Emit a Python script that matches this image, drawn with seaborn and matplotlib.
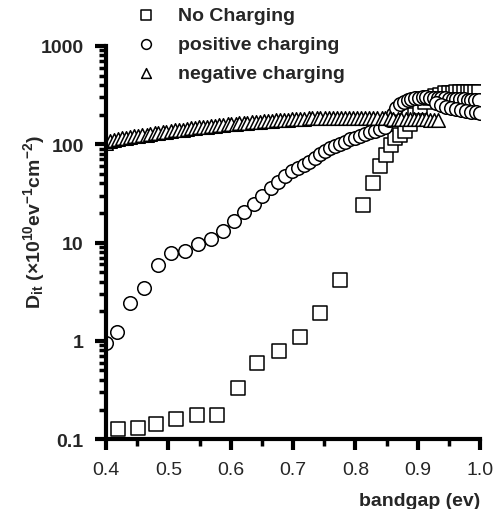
import matplotlib
matplotlib.use('Agg')
import matplotlib.pyplot as plt
import seaborn as sns
from matplotlib.ticker import LogLocator, NullFormatter, MultipleLocator

# data
sq_x = [0.420, 0.451, 0.481, 0.513, 0.546, 0.578, 0.611, 0.643, 0.678, 0.711,
        0.743, 0.776, 0.812, 0.828, 0.840, 0.849, 0.857, 0.864, 0.872, 0.880,
        0.888, 0.896, 0.904, 0.912, 0.920, 0.928, 0.936, 0.944, 0.950, 0.956,
        0.962, 0.968, 0.974, 0.980, 0.986, 0.992, 0.998]
sq_y = [0.126, 0.129, 0.142, 0.16, 0.177, 0.177, 0.33, 0.6, 0.78, 1.1,
        1.91, 4.2, 24, 40, 60, 78, 98, 115, 125, 135,
        160, 200, 240, 270, 295, 310, 320, 330, 335, 335,
        338, 340, 340, 342, 340, 340, 338]

circ_x = [0.400, 0.418, 0.439, 0.461, 0.483, 0.504, 0.526, 0.547, 0.568, 0.588,
          0.605, 0.621, 0.637, 0.651, 0.664, 0.676, 0.687, 0.698, 0.708, 0.717,
          0.726, 0.735, 0.743, 0.751, 0.759, 0.767, 0.775, 0.783, 0.791, 0.799,
          0.807, 0.815, 0.823, 0.831, 0.839, 0.847, 0.854, 0.860, 0.866, 0.872,
          0.878, 0.884, 0.890, 0.896, 0.902, 0.908, 0.914, 0.920, 0.926, 0.932,
          0.938, 0.944, 0.950, 0.956, 0.962, 0.968, 0.974, 0.980, 0.986, 0.992,
          0.998, 0.930, 0.938, 0.946, 0.954, 0.962, 0.970, 0.978, 0.986, 0.994,
          1.000]
circ_y = [0.95, 1.22, 2.4, 3.45, 5.9, 7.9, 8.2, 9.6, 10.8, 13.2,
          16.5, 20.5, 24.5, 30, 35.5, 41.5, 48, 54, 57, 61,
          66, 72, 79, 85, 91, 96, 101, 106, 112, 117,
          122, 127, 132, 137, 142, 150, 175, 205, 235, 255,
          270, 282, 290, 295, 298, 300, 300, 298, 296, 295,
          293, 292, 290, 289, 288, 287, 286, 285, 284, 283,
          282, 260, 250, 240, 232, 226, 222, 218, 215, 212,
          210]

tri_x = [0.400, 0.406, 0.413, 0.419, 0.426, 0.432, 0.439, 0.445, 0.452, 0.458,
         0.465, 0.471, 0.478, 0.484, 0.491, 0.497, 0.504, 0.510, 0.517, 0.523,
         0.530, 0.536, 0.543, 0.549, 0.556, 0.562, 0.569, 0.575, 0.582, 0.588,
         0.595, 0.601, 0.608, 0.614, 0.621, 0.627, 0.634, 0.640, 0.647, 0.653,
         0.660, 0.666, 0.673, 0.679, 0.686, 0.692, 0.699, 0.705, 0.712, 0.718,
         0.725, 0.731, 0.738, 0.744, 0.751, 0.757, 0.764, 0.770, 0.777, 0.783,
         0.790, 0.796, 0.803, 0.809, 0.816, 0.822, 0.829, 0.835, 0.842, 0.848,
         0.855, 0.861, 0.868, 0.874, 0.881, 0.887, 0.894, 0.900, 0.907, 0.913,
         0.920, 0.926, 0.933]
tri_y = [104, 108, 111, 113, 115, 117, 119, 120, 122, 124,
         125, 127, 129, 131, 133, 134, 136, 138, 140, 141,
         143, 145, 147, 148, 150, 151, 153, 154, 156, 157,
         159, 160, 162, 163, 165, 166, 167, 169, 170, 171,
         172, 174, 175, 176, 177, 178, 179, 180, 181, 182,
         183, 183, 184, 184, 185, 185, 186, 186, 186, 186,
         186, 186, 186, 185, 185, 185, 184, 184, 184, 183,
         183, 182, 182, 182, 181, 181, 180, 180, 179, 179,
         178, 178, 177]

labels = ['No Charging', 'positive charging', 'negative charging']
x_ticks = [0.4, 0.5, 0.6, 0.7, 0.8, 0.9, 1.0]
y_ticks = [0.1, 1, 10, 100, 1000]
y_ticklabels = ['0.1', '1', '10', '100', '1000']

sns.set_style('ticks')
plt.rcParams['font.family'] = ['Liberation Sans', 'DejaVu Sans']
plt.rcParams['mathtext.fontset'] = 'custom'
plt.rcParams['mathtext.rm'] = 'Liberation Sans'
plt.rcParams['mathtext.bf'] = 'Liberation Sans:bold'
plt.rcParams['mathtext.default'] = 'bf'

fig = plt.figure(figsize=(5, 5.1), dpi=100)
ax = fig.add_axes([0.212, 0.137, 0.748, 0.771])

ms = 95
sns.scatterplot(x=sq_x, y=sq_y, marker='s', s=ms, color='black', facecolor='white',
                edgecolor='black', linewidth=1.1, label=labels[0], ax=ax, zorder=3)
sns.scatterplot(x=circ_x, y=circ_y, marker='o', s=ms, color='black', facecolor='white',
                edgecolor='black', linewidth=1.1, label=labels[1], ax=ax, zorder=4)
sns.scatterplot(x=tri_x, y=tri_y, marker='^', s=ms, color='black', facecolor='white',
                edgecolor='black', linewidth=1.1, label=labels[2], ax=ax, zorder=5)

ax.set_yscale('log')
ax.set_xlim(0.4, 1.0)
ax.set_ylim(0.1, 1000)

ax.set_xticks(x_ticks)
ax.set_xticklabels([f'{t:.1f}' for t in x_ticks], fontsize=14)
ax.xaxis.set_minor_locator(MultipleLocator(0.05))
ax.set_yticks(y_ticks)
ax.set_yticklabels(y_ticklabels, fontsize=14, fontweight='bold')
ax.yaxis.set_minor_locator(LogLocator(base=10, subs=[2, 3, 4, 5, 6, 7, 8, 9]))
ax.yaxis.set_minor_formatter(NullFormatter())

ax.tick_params(axis='both', which='major', direction='out', length=8, width=3, color='black')
ax.tick_params(axis='both', which='minor', direction='out', length=5, width=2.5, color='black')
ax.tick_params(axis='x', which='major', pad=8)
ax.tick_params(axis='y', which='major', pad=8)

for side in ['top', 'right']:
    ax.spines[side].set_visible(False)
for side in ['left', 'bottom']:
    ax.spines[side].set_linewidth(3)
    ax.spines[side].set_color('black')
    ax.spines[side].set_zorder(10)

ax.set_xlabel('bandgap (ev)', fontsize=14, fontweight='bold')
ax.xaxis.set_label_coords(1.0, -0.135)
ax.xaxis.label.set_horizontalalignment('right')
ax.set_ylabel(r'$D_{it}$ $(\times10^{10}ev^{-1}cm^{-2})$', fontsize=14)
ax.yaxis.set_label_coords(-0.158, 0.555)

leg = ax.legend(loc='upper left', bbox_to_anchor=(136 / 500, 1 - 7 / 510),
                bbox_transform=fig.transFigure, frameon=False,
                prop={'weight': 'bold', 'size': 14}, markerscale=0.72,
                handlelength=1.0, handletextpad=1.15, labelspacing=0.6,
                borderpad=0, borderaxespad=0)

plt.savefig('out.png', dpi=100)
